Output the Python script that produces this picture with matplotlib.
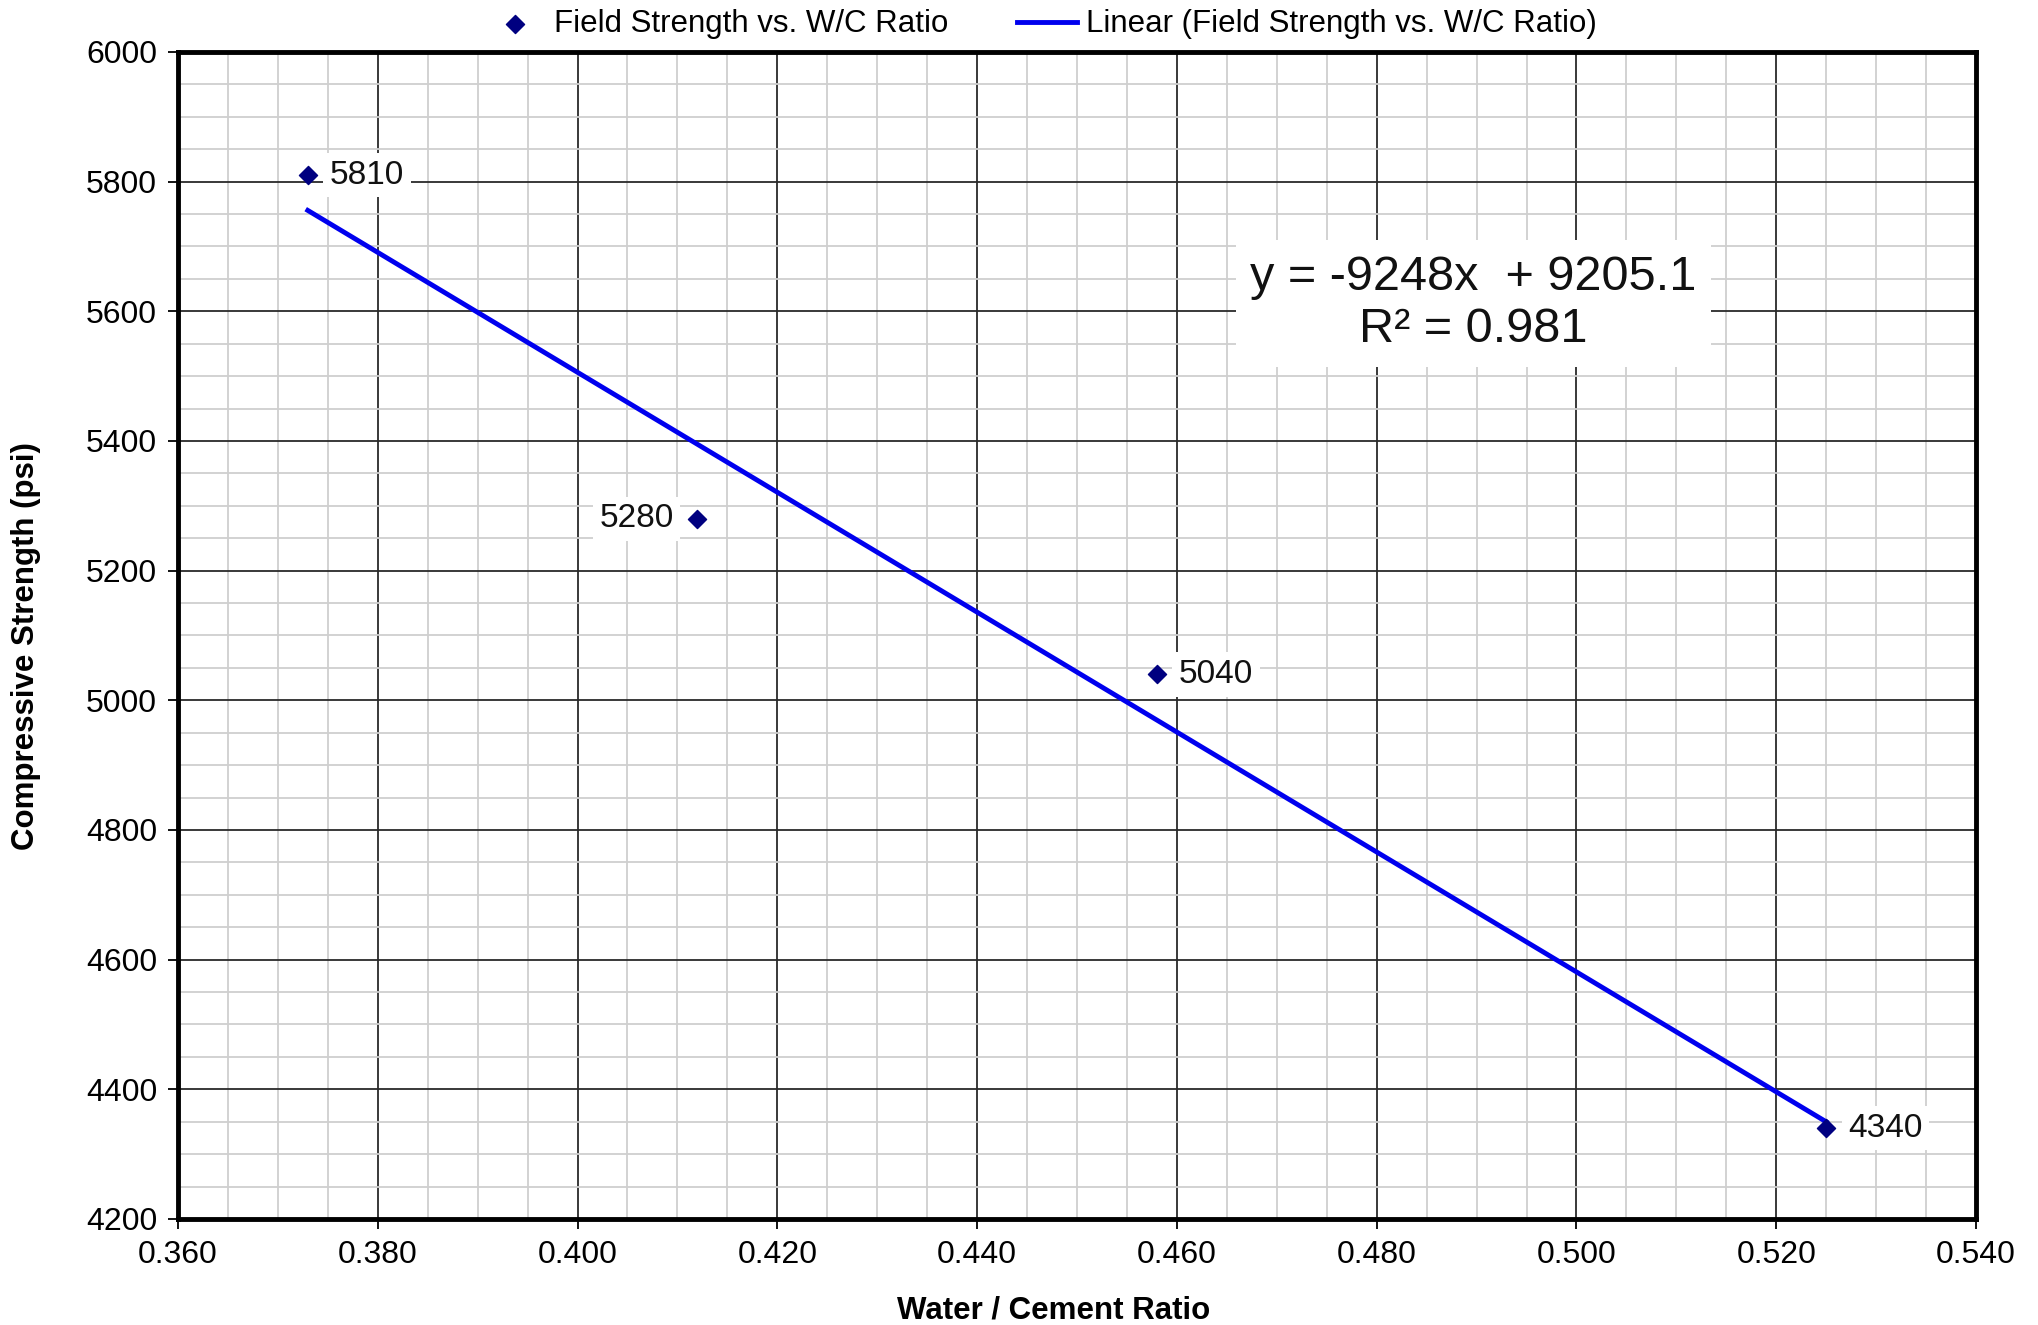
import numpy as np
import matplotlib.pyplot as plt
from matplotlib.ticker import MultipleLocator, FormatStrFormatter

plt.rcParams['font.family'] = ['Liberation Sans', 'DejaVu Sans']

# 现场强度与水灰比
wc_ratio = [0.373, 0.412, 0.458, 0.525]
strength = [5810, 5280, 5040, 4340]
label_side = ['right', 'left', 'right', 'right']

# 线性趋势线参数
slope = -9248
intercept = 9205.1
r2 = 0.981

fig = plt.figure(figsize=(20.38, 13.25), dpi=100)
ax = fig.add_axes([0.0873, 0.080, 0.8823, 0.8808])

ax.set_xlim(0.360, 0.540)
ax.set_ylim(4200, 6000)
ax.xaxis.set_major_locator(MultipleLocator(0.02))
ax.xaxis.set_minor_locator(MultipleLocator(0.005))
ax.yaxis.set_major_locator(MultipleLocator(200))
ax.yaxis.set_minor_locator(MultipleLocator(50))
ax.xaxis.set_major_formatter(FormatStrFormatter('%.3f'))

ax.grid(which='major', color='#2a2a2a', linewidth=1.3, zorder=0)
ax.grid(which='minor', color='#cfcfcf', linewidth=1.3, zorder=0)
ax.set_axisbelow(True)
for s in ax.spines.values():
    s.set_linewidth(3.5)
ax.tick_params(which='major', direction='out', length=7, width=1.3, labelsize=23, pad=8)
ax.tick_params(which='minor', length=0)

# 趋势线
xt = np.array([min(wc_ratio), max(wc_ratio)])
ax.plot(xt, slope * xt + intercept, color='#0000ee', linewidth=3.5,
        label='Linear (Field Strength vs. W/C Ratio)', zorder=3)
ax.scatter(wc_ratio, strength, marker='D', s=85, color='#000080',
           label='Field Strength vs. W/C Ratio', zorder=4)

for x, y, side in zip(wc_ratio, strength, label_side):
    dx = 16 if side == 'right' else -17
    ax.annotate(str(y), (x, y), xytext=(dx, 0), textcoords='offset points',
                ha='left' if side == 'right' else 'right', va='center',
                fontsize=24, color='#111111',
                bbox=dict(boxstyle='square,pad=0.2', fc='white', ec='none'), zorder=5)

ax.text(0.4897, 5612, 'y = -9248x  + 9205.1\nR² = 0.981', ha='center', va='center',
        fontsize=35, linespacing=1.2, color='#111111',
        bbox=dict(boxstyle='square,pad=0.3', fc='white', ec='none'), zorder=5)

ax.set_xlabel('Water / Cement Ratio', fontsize=22.5, fontweight='bold', va='center')
ax.xaxis.set_label_coords(0.487, -0.078)
ax.set_ylabel('Compressive Strength (psi)', fontsize=22.5, fontweight='bold', va='center')
ax.yaxis.set_label_coords(-0.0845, 0.491)

h, l = ax.get_legend_handles_labels()
ax.legend(h[::-1], l[::-1], loc='lower center', bbox_to_anchor=(0.48, 1.0), ncol=2,
          frameon=False, fontsize=22.5, handlelength=1.9, handletextpad=0.3,
          columnspacing=2.2, borderaxespad=0.0)

fig.savefig('out.png', dpi=100)
